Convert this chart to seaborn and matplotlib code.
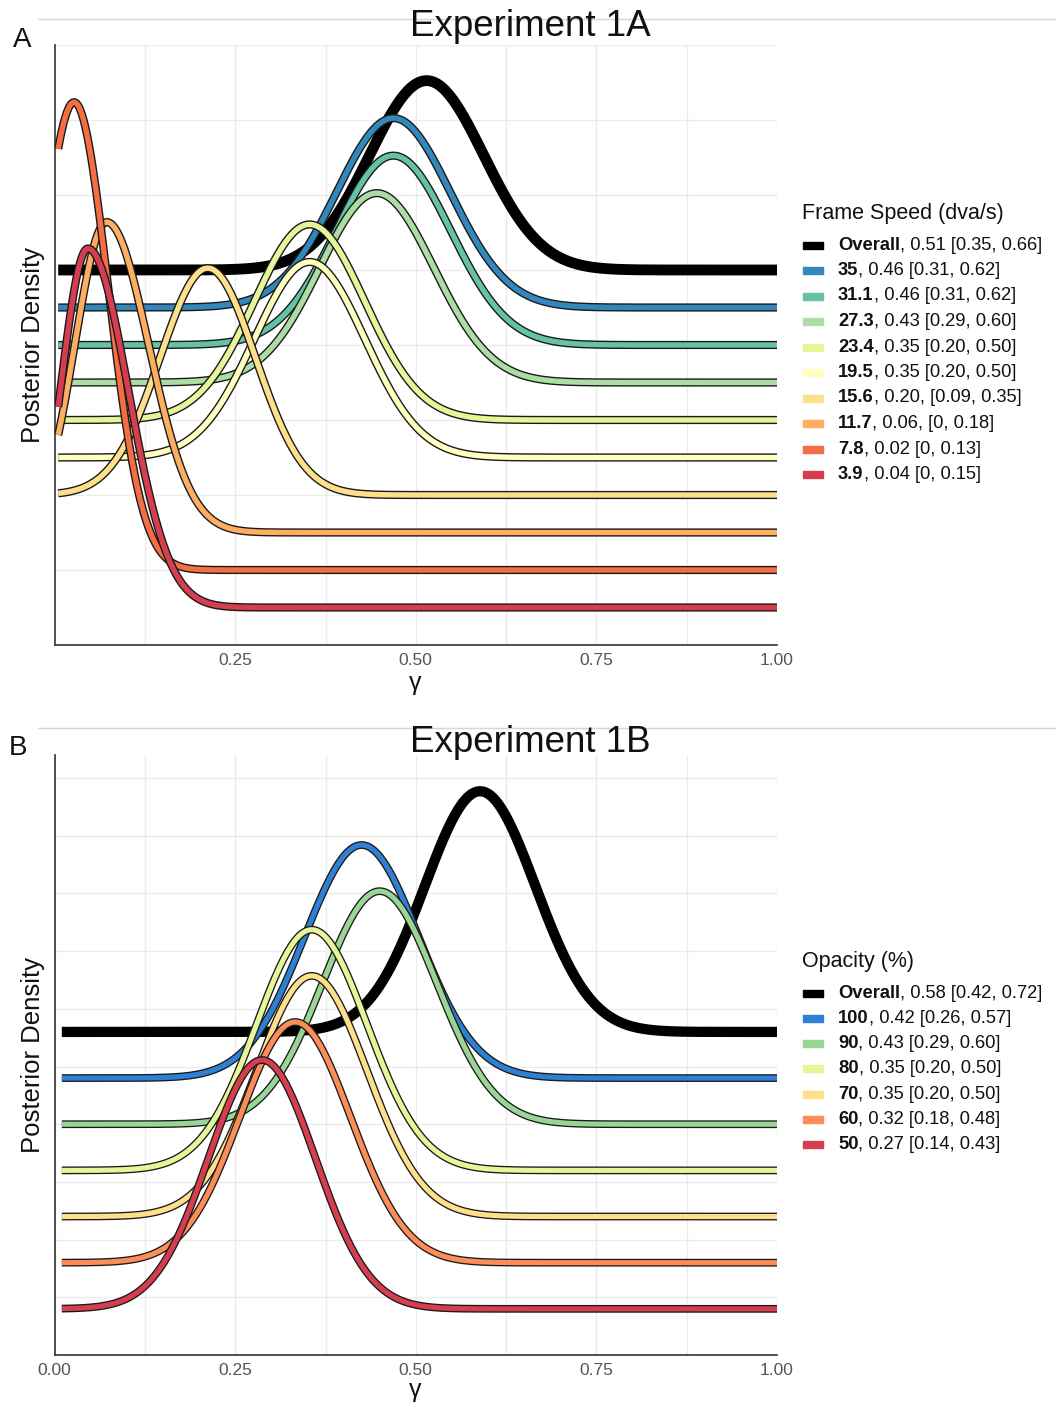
import numpy as np
import pandas as pd
import matplotlib
matplotlib.use("Agg")
import matplotlib.pyplot as plt
from matplotlib.patches import Rectangle
import seaborn as sns

# ---------------- Experiment 1A: frame speed (top row first) ----------------
speed_labels = ["Overall", "35", "31.1", "27.3", "23.4", "19.5", "15.6", "11.7", "7.8", "3.9"]
speed_median = [0.51, 0.46, 0.46, 0.43, 0.35, 0.35, 0.20, 0.06, 0.02, 0.04]
speed_lo = [0.35, 0.31, 0.31, 0.29, 0.20, 0.20, 0.09, 0, 0, 0]
speed_hi = [0.66, 0.62, 0.62, 0.60, 0.50, 0.50, 0.35, 0.18, 0.13, 0.15]
speed_sep = [" ", " ", " ", " ", " ", " ", ", ", ", ", " ", " "]
# posterior peak location and left/right spread of each density
speed_mode = [0.515, 0.469, 0.469, 0.446, 0.353, 0.353, 0.212, 0.072, 0.027, 0.046]
speed_sd_left = [0.079, 0.079, 0.079, 0.079, 0.0765, 0.0765, 0.066, 0.044, 0.048, 0.038]
speed_sd_right = [0.079, 0.079, 0.079, 0.079, 0.0765, 0.0765, 0.066, 0.058, 0.047, 0.056]
speed_colors = ["#000000", "#3288BD", "#66C2A5", "#ABDDA4", "#E6F598",
                "#FFFFBF", "#FEE08B", "#FDAE61", "#F46D43", "#D53E4F"]

# ---------------- Experiment 1B: opacity (top row first) ----------------
opac_labels = ["Overall", "100", "90", "80", "70", "60", "50"]
opac_median = [0.58, 0.42, 0.43, 0.35, 0.35, 0.32, 0.27]
opac_lo = [0.42, 0.26, 0.29, 0.20, 0.20, 0.18, 0.14]
opac_hi = [0.72, 0.57, 0.60, 0.50, 0.50, 0.48, 0.43]
opac_sep = [" ", " ", " ", " ", " ", " ", " "]
opac_mode = [0.589, 0.425, 0.450, 0.356, 0.356, 0.333, 0.287]
opac_sd_left = [0.0765, 0.079, 0.079, 0.0765, 0.0765, 0.0765, 0.074]
opac_sd_right = [0.0765, 0.079, 0.079, 0.0765, 0.0765, 0.0765, 0.074]
opac_colors = ["#000000", "#2F7FD2", "#99D594", "#E6F598", "#FEE08B", "#FC8D59", "#D53E4F"]

W, H = 1056, 1403

sns.set_style("white")
plt.rcParams["font.family"] = ["Liberation Sans", "DejaVu Sans"]

fig = plt.figure(figsize=(W / 100, H / 100), dpi=100)


def fx(px):
    return px / W


def fy(py):
    return 1 - py / H


def ridge_density(x, mode, sd_l, sd_r):
    sd = np.where(x < mode, sd_l, sd_r)
    shape = np.exp(-0.5 * ((x - mode) / sd) ** 2)
    return shape / np.trapezoid(shape, x)


def fmt(v):
    return "0" if v == 0 else f"{v:.2f}"


def draw_panel(top_px, bottom_px, x_start, labels, modes, sd_l, sd_r, colors,
               ylim, yticks, xticks, black_lw, edge_lw, inner_lw):
    ax = fig.add_axes([fx(54.6), fy(bottom_px), fx(777) - fx(54.6),
                       (bottom_px - top_px) / H])
    n = len(labels)
    x = np.linspace(x_start, 1.0, 400)
    frames = []
    for i, lab in enumerate(labels):
        base = n - 1 - i
        dens = ridge_density(x, modes[i], sd_l[i], sd_r[i])
        frames.append(pd.DataFrame({"gamma": x, "y": base + dens, "group": lab}))
    df = pd.concat(frames, ignore_index=True)

    for i, lab in enumerate(labels):
        sub = df[df["group"] == lab]
        if lab == "Overall":
            sns.lineplot(data=sub, x="gamma", y="y", color="black", lw=black_lw,
                         sort=False, estimator=None, ax=ax, solid_capstyle="butt",
                         zorder=3 + i)
        else:
            sns.lineplot(data=sub, x="gamma", y="y", color="#1A1A1A", lw=edge_lw,
                         sort=False, estimator=None, ax=ax, solid_capstyle="butt",
                         zorder=3 + i)
            sns.lineplot(data=sub, x="gamma", y="y", color=colors[i], lw=inner_lw,
                         sort=False, estimator=None, ax=ax, solid_capstyle="butt",
                         zorder=3 + i)

    ax.set_xlim(0, 1)
    ax.set_ylim(*ylim)
    ax.set_xticks(xticks)
    ax.set_xticklabels([f"{t:.2f}" for t in xticks])
    ax.set_xticks([0.125, 0.375, 0.625, 0.875], minor=True)
    ax.set_yticks(yticks)
    ax.set_yticklabels([])
    ax.grid(True, which="both", color="#EBEBEB", lw=1.0, zorder=0)
    ax.set_axisbelow(True)
    ax.tick_params(axis="both", which="both", length=0)
    ax.tick_params(axis="x", labelsize=12.5, labelcolor="#555555", pad=6)
    ax.set_xlabel("")
    ax.set_ylabel("")
    for side in ("top", "right"):
        ax.spines[side].set_visible(False)
    for side in ("left", "bottom"):
        ax.spines[side].set_color("#333333")
        ax.spines[side].set_linewidth(1.2)
    return ax


def draw_legend(ax, title, title_y, first_y, step, labels, med, lo, hi, sep, colors):
    fig.text(fx(802), fy(title_y), title, ha="left", va="center",
             fontsize=15.5, color="#111111")
    for i, lab in enumerate(labels):
        yc = first_y + i * step
        fig.add_artist(Rectangle((fx(803), fy(yc + 3.5)), 20 / W, 7 / H,
                                 color=colors[i], transform=fig.transFigure))
        t1 = fig.text(fx(838), fy(yc), lab, ha="left", va="center",
                      fontsize=13.2, fontweight="bold", color="#111111")
        rest = f", {fmt(med[i])}{sep[i]}[{fmt(lo[i])}, {fmt(hi[i])}]"
        ax.annotate(rest, xy=(1, 0), xycoords=t1, ha="left", va="bottom",
                    fontsize=13.2, color="#111111", annotation_clip=False)


# ---------------- Panel A ----------------
ax_a = draw_panel(45, 645, 0.005, speed_labels, speed_mode, speed_sd_left,
                  speed_sd_right, speed_colors, ylim=(-1, 15),
                  yticks=np.arange(-1, 16, 2), xticks=[0.25, 0.5, 0.75, 1.0],
                  black_lw=7.8, edge_lw=5.9, inner_lw=3.9)
draw_legend(ax_a, "Frame Speed (dva/s)", 213, 245, 25.5, speed_labels,
            speed_median, speed_lo, speed_hi, speed_sep, speed_colors)

# ---------------- Panel B ----------------
ax_b = draw_panel(755, 1355, 0.01, opac_labels, opac_mode, opac_sd_left,
                  opac_sd_right, opac_colors, ylim=(-1, 12),
                  yticks=-1 + 1.25 * np.arange(11), xticks=[0.0, 0.25, 0.5, 0.75, 1.0],
                  black_lw=7.4, edge_lw=5.6, inner_lw=3.7)
draw_legend(ax_b, "Opacity (%)", 961, 993, 25.3, opac_labels,
            opac_median, opac_lo, opac_hi, opac_sep, opac_colors)

# ---------------- titles, panel letters, axis labels ----------------
for title, ty, letter, lx, ly, ylab_y, xlab_y in [
        ("Experiment 1A", 27, "A", 22, 40, 345, 683),
        ("Experiment 1B", 743, "B", 18, 748, 1055, 1390)]:
    fig.text(fx(530), fy(ty), title, ha="center", va="center", fontsize=26.5, color="#111111")
    fig.text(fx(lx), fy(ly), letter, ha="center", va="center", fontsize=20, color="#111111")
    fig.text(fx(33), fy(ylab_y), "Posterior Density", rotation=90, ha="center",
             va="center", fontsize=18.5, color="#111111")
    fig.text(fx(415), fy(xlab_y), "γ", ha="center", va="center", fontsize=18, color="#111111")

# thin separators above each panel
for sy in (19, 728):
    fig.add_artist(plt.Line2D([fx(38), 1.0], [fy(sy), fy(sy)], color="#D6D6D6",
                              lw=1.0, transform=fig.transFigure))

fig.savefig("out.png", dpi=100)
